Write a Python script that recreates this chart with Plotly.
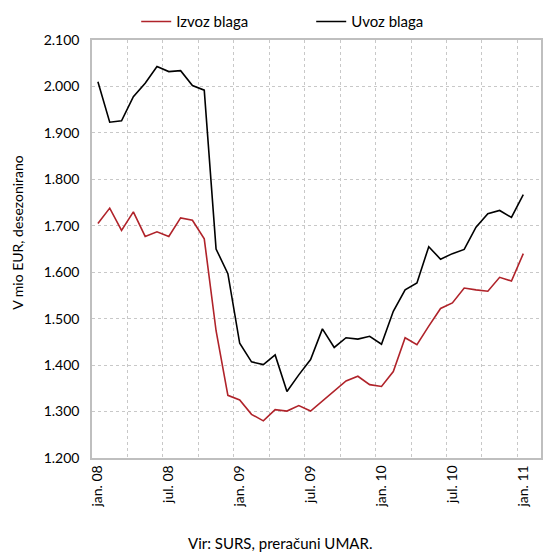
import plotly.graph_objects as go

# monthly, jan. 08 - jan. 11, mio EUR, seasonally adjusted
months = [
    "jan. 08", "feb. 08", "mar. 08", "apr. 08", "maj. 08", "jun. 08",
    "jul. 08", "avg. 08", "sep. 08", "okt. 08", "nov. 08", "dec. 08",
    "jan. 09", "feb. 09", "mar. 09", "apr. 09", "maj. 09", "jun. 09",
    "jul. 09", "avg. 09", "sep. 09", "okt. 09", "nov. 09", "dec. 09",
    "jan. 10", "feb. 10", "mar. 10", "apr. 10", "maj. 10", "jun. 10",
    "jul. 10", "avg. 10", "sep. 10", "okt. 10", "nov. 10", "dec. 10",
    "jan. 11",
]
izvoz = [
    1705, 1738, 1690, 1730, 1677, 1687, 1677, 1717, 1712, 1672, 1474, 1335,
    1325, 1294, 1280, 1304, 1301, 1313, 1301, 1322, 1345, 1366, 1376, 1358,
    1354, 1386, 1459, 1444, 1484, 1522, 1534, 1566, 1562, 1559, 1589, 1581,
    1640,
]
uvoz = [
    2010, 1923, 1926, 1978, 2007, 2043, 2032, 2034, 2002, 1992, 1650, 1597,
    1447, 1407, 1401, 1422, 1343, 1379, 1412, 1478, 1438, 1459, 1456, 1462,
    1445, 1516, 1562, 1577, 1655, 1628, 1640, 1649, 1697, 1726, 1733, 1718,
    1767,
]
label_months = ["jan. 08", "jul. 08", "jan. 09", "jul. 09", "jan. 10", "jul. 10", "jan. 11"]

x = list(range(len(months)))
tickvals = [months.index(m) for m in label_months]

FONT = "Lato"
GRID = "#c8c8c8"
RED = "#b0232a"

fig = go.Figure()
fig.add_trace(go.Scatter(x=x, y=izvoz, name="Izvoz blaga", mode="lines",
                         line=dict(color=RED, width=1.6)))
fig.add_trace(go.Scatter(x=x, y=uvoz, name="Uvoz blaga", mode="lines",
                         line=dict(color="black", width=1.6)))

# the page body adds an 8px offset, so margins are reduced by that much
fig.update_layout(
    width=555, height=552,
    margin=dict(l=84, r=22, t=32, b=102, autoexpand=False),
    paper_bgcolor="white", plot_bgcolor="white",
    separators=",.",
    font=dict(family=FONT, size=13, color="black"),
    showlegend=True,
    legend=dict(orientation="h", xref="container", yref="container",
                x=0.231, y=0.975, xanchor="left", yanchor="middle",
                font=dict(size=15), entrywidth=130, bgcolor="rgba(0,0,0,0)"),
    annotations=[
        dict(text="Vir: SURS, preračuni UMAR.", xref="paper", yref="paper",
             x=0.419, y=-0.203, xanchor="center", yanchor="middle", showarrow=False,
             font=dict(size=15)),
        dict(text="V mio EUR, desezonirano", xref="paper", yref="paper",
             x=-0.165, y=0.541, xanchor="center", yanchor="middle", showarrow=False,
             textangle=-90, font=dict(size=14)),
    ],
)
fig.update_xaxes(
    range=[-0.5, 37.5], automargin=False,
    tickmode="array", tickvals=tickvals, ticktext=label_months,
    tickangle=-90, showgrid=False, ticks="", tickfont=dict(size=14),
    showline=True, linecolor="#bfbfbf", linewidth=1.5, mirror=True,
    minor=dict(tickmode="linear", tick0=-0.5, dtick=3, showgrid=True,
               gridcolor=GRID, griddash="dot", gridwidth=1),
    zeroline=False,
)
fig.update_yaxes(
    range=[1200, 2100], dtick=100, tickformat=",d", automargin=False,
    showgrid=True, gridcolor=GRID, griddash="dot", gridwidth=1,
    showline=True, linecolor="#bfbfbf", linewidth=1.5, mirror=True,
    ticks="", zeroline=False, tickfont=dict(size=14), ticklabelstandoff=8,
)

fig.write_html("out.html")
